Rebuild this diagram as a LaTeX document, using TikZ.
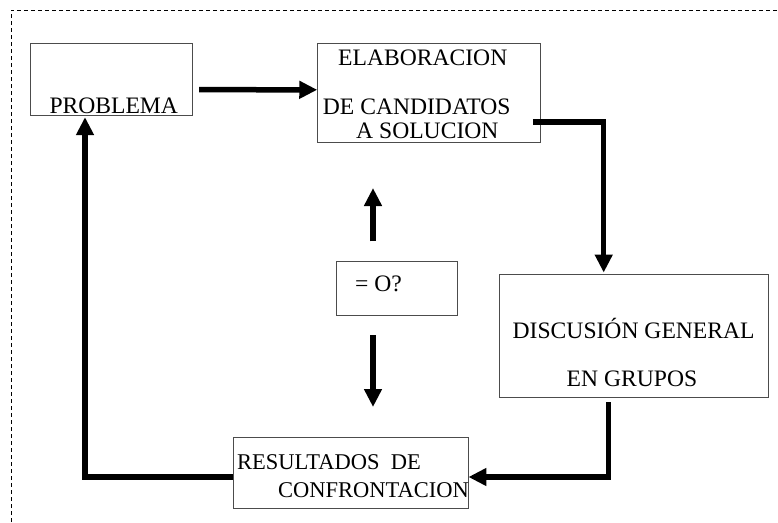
\documentclass[tikz,border=0pt]{standalone}
\usepackage{fontspec}
\setmainfont{Liberation Serif}
\usetikzlibrary{arrows.meta,positioning,calc}

\begin{document}
\begin{tikzpicture}[
    x=1pt, y=-1pt,
    box/.style={rectangle, draw=black!70, line width=0.9pt, inner sep=0pt},
    txt/.style={anchor=base west, inner sep=0pt, font=\fontsize{23.6}{28}\selectfont},
    smalltxt/.style={txt, font=\fontsize{22.5}{27}\selectfont},
    arrow/.style={line width=5.5pt, -{Triangle[length=18pt, width=17pt]}}
]
\useasboundingbox (0,0) rectangle (778,522);

% Frame
\draw[line width=0.8pt, dash pattern=on 4pt off 3pt] (11,522) -- (11,10) -- (778,10);

% Boxes
\node[box, minimum width=162pt, minimum height=72pt] (prob) at (111.7,79.7) {};
\node[box, minimum width=222.6pt, minimum height=98.3pt] (elab) at (429,92.8) {};
\node[box, minimum width=120.6pt, minimum height=54pt] (preg) at (397,288.7) {};
\node[box, minimum width=269.3pt, minimum height=123pt] (disc) at (633.7,335.5) {};
\node[box, minimum width=235pt, minimum height=71pt] (result) at (350.5,472.5) {};

% Texts
\node[txt] (probtxt) at (49.3,113) {PROBLEMA};
\node[txt] (elabtxta) at (338,65) {ELABORACION};
\node[txt] (elabtxtb) at (322.7,114) {DE CANDIDATOS};
\node[txt] (elabtxtc) at (356,138) {A SOLUCION};
\node[txt] (pregtxt) at (355,291) {= O?};
\node[txt] (disctxta) at (512.5,338) {DISCUSIÓN GENERAL};
\node[txt] (disctxtb) at (566.5,386) {EN GRUPOS};
\node[smalltxt] (resulttxta) at (237,469) {RESULTADOS\ \ DE};
\node[smalltxt] (resulttxtb) at (278,497) {CONFRONTACION};

% Free ends
\coordinate (up) at (373,188);
\coordinate (down) at (373,407);

% Arrows
\draw[arrow] ([shift={(6,10)}]prob.east) -- ([shift={(0,-3)}]elab.west);
\draw[arrow] ([shift={(-8,29)}]elab.east) -| ([shift={(-30,-1)}]disc.north);
\draw[arrow] ([shift={(-25,5)}]disc.south) |- ([shift={(0,4.5)}]result.east);
\draw[arrow] ([shift={(0,4.5)}]result.west) -| ([shift={(-26.7,1)}]prob.south);
\draw[arrow] ([shift={(-24,-20)}]preg.north) -- (up);
\draw[arrow] ([shift={(-24,19.3)}]preg.south) -- (down);

\end{tikzpicture}
\end{document}
